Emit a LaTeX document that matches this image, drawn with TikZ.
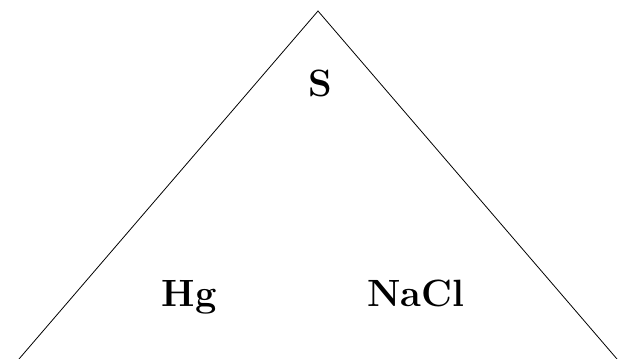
\documentclass[tikz,border=0pt]{standalone}
\begin{document}
\begin{tikzpicture}[x=1pt,y=-1pt,
  lbl/.style={anchor=base,inner sep=0pt,font=\fontsize{38}{44}\selectfont\bfseries},
  edge/.style={draw=black,line width=0.8pt}]
\useasboundingbox (0,0) rectangle (630,359);
\coordinate (top) at (318,11);
\coordinate (bl) at (19,359);
\coordinate (br) at (617,359);
\draw[edge] (bl) -- (top) -- (br);
\node[lbl] (s) at (320,96) {S};
\node[lbl] (hg) at (189,306) {Hg};
\node[lbl] (nacl) at (416,306) {NaCl};
\end{tikzpicture}
\end{document}
